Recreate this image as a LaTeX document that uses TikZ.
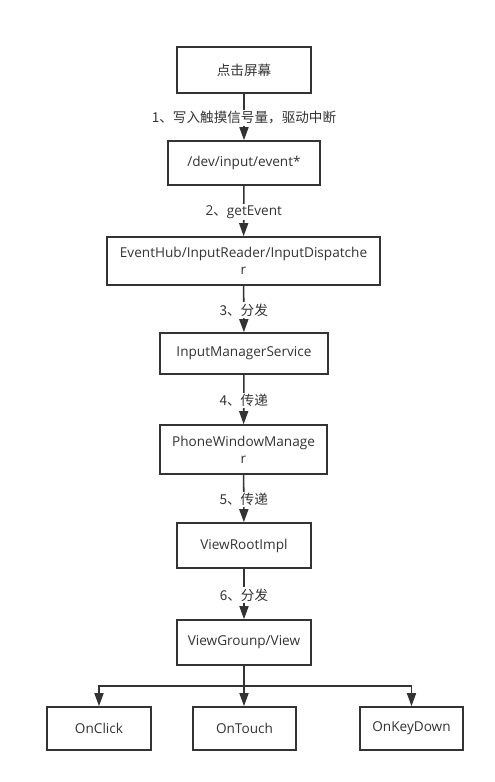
\documentclass[tikz,border=0pt]{standalone}
\usepackage{fontspec}
\setmainfont{Open Sans}
\newfontfamily\cjk{Noto Sans CJK SC}
\usetikzlibrary{arrows.meta}
\definecolor{ln}{HTML}{333333}
\begin{document}
\begin{tikzpicture}[x=1pt,y=-1pt,
  box/.style={draw=ln, line width=1.6pt, text=ln, font=\fontsize{13.6}{17}\selectfont, align=center, inner sep=0pt},
  arr/.style={draw=ln, line width=1.6pt, -{Triangle[length=13pt,width=9pt]}},
  conn/.style={draw=ln, line width=1.6pt},
  lbl/.style={fill=white, text=ln, font=\fontsize{13.6}{17}\selectfont, inner sep=1.5pt, pos=0.52}]
\useasboundingbox (0,0) rectangle (495,782);
\node[box, minimum width=134pt, minimum height=46pt] (b1) at (244,70) {\cjk 点击屏幕};
\node[box, minimum width=152pt, minimum height=44pt] (b2) at (244,163) {/dev/input/event*};
\node[box, minimum width=273pt, minimum height=48pt] (b3) at (243.5,261) {EventHub/InputReader/InputDispatche\\r};
\node[box, minimum width=168pt, minimum height=41pt] (b4) at (244,353.5) {InputManagerService};
\node[box, minimum width=167pt, minimum height=49pt] (b5) at (243.5,449.5) {PhoneWindowManage\\r};
\node[box, minimum width=134pt, minimum height=45pt] (b6) at (244,545.5) {ViewRootImpl};
\node[box, minimum width=134pt, minimum height=45pt] (b7) at (244,642.5) {ViewGrounp/View};
\node[box, minimum width=104pt, minimum height=43pt] (c1) at (99,728.5) {OnClick};
\node[box, minimum width=103pt, minimum height=43pt] (c2) at (244.5,728.5) {OnTouch};
\node[box, minimum width=103pt, minimum height=43pt] (c3) at (411.5,728.5) {OnKeyDown};
\draw[arr] (b1) -- node[lbl]{\cjk 1、写入触摸信号量，驱动中断} (b2);
\draw[arr] (b2) -- node[lbl]{2{\cjk 、}getEvent} (b3);
\draw[arr] (b3) -- node[lbl]{\cjk 3、分发} (b4);
\draw[arr] (b4) -- node[lbl]{\cjk 4、传递} (b5);
\draw[arr] (b5) -- node[lbl]{\cjk 5、传递} (b6);
\draw[arr] (b6) -- node[lbl]{\cjk 6、分发} (b7);
\coordinate (j) at (244,686);
\draw[conn] (b7.south) -- (j);
\draw[arr] (j) -| (c1.north);
\draw[arr] (j) -- (c2.north -| j);
\draw[arr] (j) -| (c3.north);
\end{tikzpicture}
\end{document}
